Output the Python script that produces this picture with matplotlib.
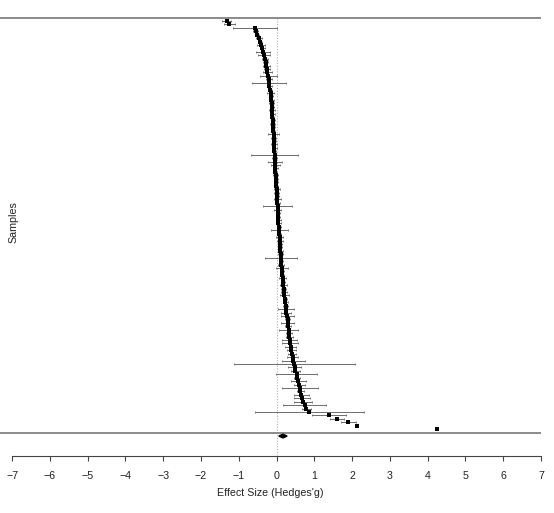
import matplotlib
matplotlib.use("Agg")
import matplotlib.pyplot as plt
import numpy as np

# effect sizes (Hedges' g), top row first
g = [-1.32, -1.25, -0.58, -0.55, -0.51, -0.47, -0.44, -0.41, -0.38, -0.36,
     -0.33, -0.31, -0.29, -0.27, -0.25, -0.24, -0.22, -0.21, -0.20, -0.19,
     -0.17, -0.16, -0.15, -0.14, -0.13, -0.12, -0.12, -0.11, -0.11, -0.10,
     -0.10, -0.09, -0.09, -0.08, -0.08, -0.07, -0.07, -0.06, -0.06, -0.05,
     -0.05, -0.04, -0.04, -0.03, -0.03, -0.02, -0.02, -0.01, -0.01, 0.00,
     0.00, 0.01, 0.02, 0.02, 0.03, 0.03, 0.04, 0.04, 0.05, 0.05,
     0.06, 0.07, 0.07, 0.08, 0.08, 0.09, 0.10, 0.10, 0.11, 0.12,
     0.12, 0.13, 0.14, 0.15, 0.15, 0.16, 0.17, 0.18, 0.19, 0.20,
     0.21, 0.22, 0.23, 0.24, 0.25, 0.26, 0.28, 0.29, 0.30, 0.31,
     0.32, 0.33, 0.34, 0.35, 0.36, 0.37, 0.39, 0.41, 0.43, 0.44,
     0.47, 0.48, 0.50, 0.53, 0.55, 0.57, 0.60, 0.62, 0.63, 0.65,
     0.67, 0.70, 0.74, 0.79, 0.87, 1.40, 1.60, 1.90, 2.13, 4.25]

# half width of the 95% CI for each row
ci = [0.12, 0.15, 0.58, 0.06, 0.05, 0.08, 0.06, 0.10, 0.07, 0.18,
      0.15, 0.08, 0.06, 0.10, 0.07, 0.12, 0.22, 0.08, 0.44, 0.07,
      0.06, 0.09, 0.05, 0.07, 0.06, 0.05, 0.07, 0.06, 0.05, 0.06,
      0.07, 0.05, 0.06, 0.14, 0.06, 0.05, 0.08, 0.06, 0.05, 0.63,
      0.06, 0.19, 0.12, 0.06, 0.05, 0.07, 0.06, 0.05, 0.06, 0.08,
      0.06, 0.05, 0.10, 0.06, 0.38, 0.10, 0.06, 0.05, 0.07, 0.06,
      0.05, 0.23, 0.06, 0.10, 0.08, 0.06, 0.05, 0.07, 0.06, 0.42,
      0.06, 0.08, 0.15, 0.06, 0.05, 0.10, 0.06, 0.10, 0.06, 0.07,
      0.12, 0.06, 0.07, 0.06, 0.20, 0.13, 0.17, 0.07, 0.17, 0.08,
      0.26, 0.07, 0.10, 0.20, 0.22, 0.15, 0.12, 0.10, 0.15, 0.30,
      1.60, 0.18, 0.12, 0.54, 0.08, 0.20, 0.15, 0.48, 0.10, 0.20,
      0.22, 0.23, 0.56, 0.11, 1.45, 0.45, 0.19, 0.19, 0.03, 0.02]

# pooled estimate
pooled = 0.17
pooled_lo = 0.06
pooled_hi = 0.28

ticks = list(range(-7, 8))

g = np.array(g)
ci = np.array(ci)
k = len(g)
rows = np.arange(k, 0, -1)   # top study at row k, last at row 1

plt.rcParams['font.family'] = ['Liberation Sans', 'DejaVu Sans']

fig = plt.figure(figsize=(5.54, 5.13), dpi=100)
ax = fig.add_axes([0.0, 0.1111, 541 / 554, 0.8694])

# reference line at zero
ax.plot([0, 0], [k + 1, -6.5], color='#b0b0b0', linestyle=(0, (1, 1.5)), lw=0.8, zorder=1)

# horizontal rules
ax.axhline(k + 1, color='#8a8a8a', lw=1.4, zorder=1)
ax.axhline(0, color='#8a8a8a', lw=1.4, zorder=1)

# study CIs and points
ax.errorbar(g, rows, xerr=ci, fmt='none', ecolor='#555555', elinewidth=0.6,
            capsize=1.0, capthick=0.5, zorder=2)
ax.plot(g, rows, 's', color='black', markersize=2.2, markeredgewidth=0, zorder=3)

# summary diamond
h = 0.55
ax.fill([pooled_lo, pooled, pooled_hi, pooled],
        [-1, -1 + h, -1, -1 - h], color='black', zorder=3)

ax.set_xlim(-7.32, 7.0)
ax.set_ylim(-6.81, 123.2)
ax.set_yticks([])
for side in ['top', 'right', 'left']:
    ax.spines[side].set_visible(False)
ax.spines['bottom'].set_bounds(-7, 7)
ax.spines['bottom'].set_color('#444444')
ax.spines['bottom'].set_linewidth(0.8)
ax.set_xticks(ticks)
ax.set_xticklabels([str(t).replace('-', '\u2212') for t in ticks])
ax.tick_params(axis='x', length=3.5, width=0.8, color='#444444', pad=7,
               labelsize=7.7, labelcolor='#222222')
ax.set_xlabel("Effect Size (Hedges'g)", fontsize=7.7, color='#222222', labelpad=5)

fig.text(0.024, 1 - 222 / 513, 'Samples', rotation=90, ha='center', va='center',
         fontsize=7.7, color='#222222')

fig.savefig('out.png', dpi=100)
